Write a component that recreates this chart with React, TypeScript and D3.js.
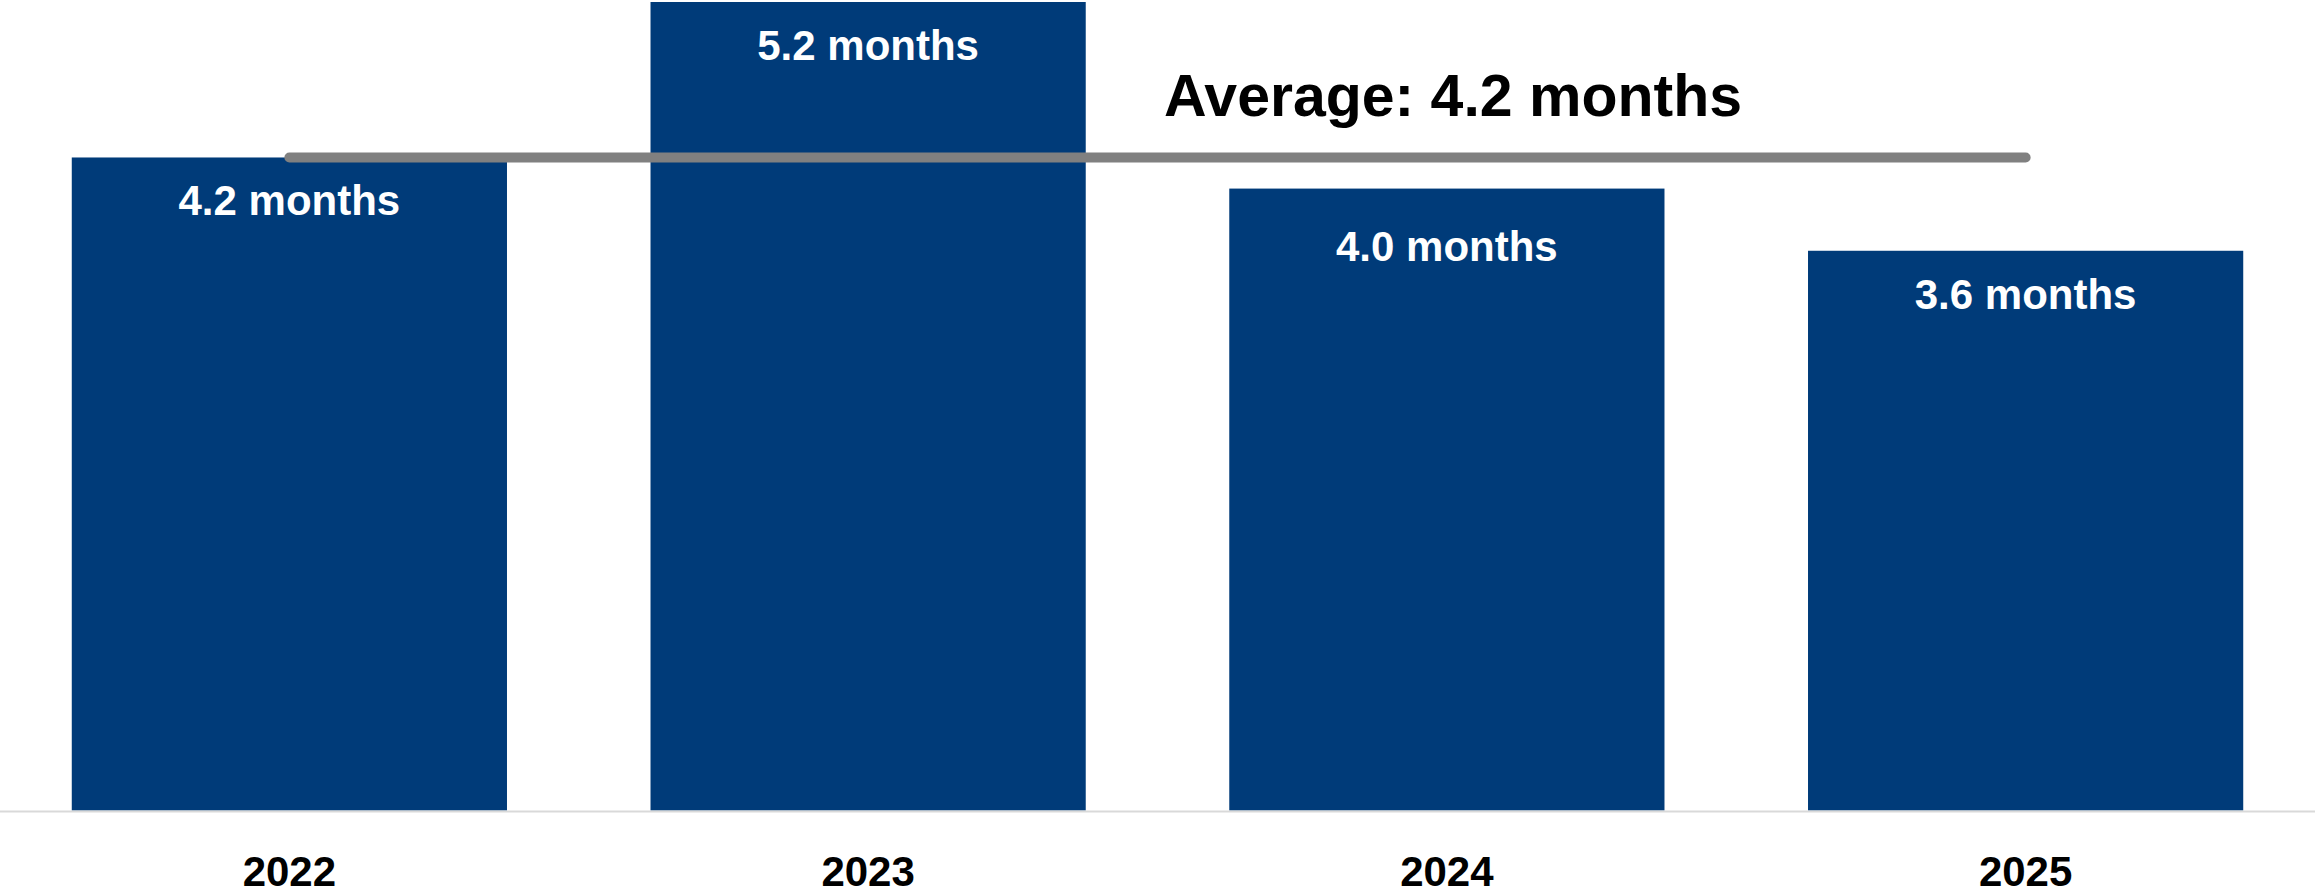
import React from "react";
import * as d3 from "d3";

const categories = ["2022", "2023", "2024", "2025"];
const values = [4.2, 5.2, 4.0, 3.6];
const valueLabels = ["4.2 months", "5.2 months", "4.0 months", "3.6 months"];
const averageValue = 4.2;
const averageLabel = "Average: 4.2 months";

const W = 2315;
const H = 894;
const baseY = 810.5;
const topY = 2;
const FONT = "'Liberation Sans', Arial, sans-serif";
// baseline offsets of value labels below each bar top (layout only)
const labelOffsets = [58, 58, 72, 58];

export default function App() {
  const x = d3
    .scaleBand<string>()
    .domain(categories)
    .range([0, W])
    .paddingInner(0.248)
    .paddingOuter(0.124);
  const y = d3.scaleLinear().domain([0, 5.2]).range([baseY, topY]);
  const bw = x.bandwidth();
  const first = (x(categories[0]) ?? 0) + bw / 2;
  const last = (x(categories[categories.length - 1]) ?? 0) + bw / 2;
  const avgY = y(averageValue);

  return (
    <svg
      width={W}
      height={H}
      style={{ position: "absolute", left: 0, top: 0, background: "#fff" }}
    >
      {categories.map((c, i) => (
        <g key={c}>
          <rect
            x={x(c)}
            y={y(values[i])}
            width={bw}
            height={baseY - y(values[i])}
            fill="#003B79"
          />
          <text
            x={(x(c) ?? 0) + bw / 2}
            y={y(values[i]) + labelOffsets[i]}
            textAnchor="middle"
            fill="#fff"
            fontFamily={FONT}
            fontWeight="bold"
            fontSize={42}
          >
            {valueLabels[i]}
          </text>
          <text
            x={(x(c) ?? 0) + bw / 2}
            y={886}
            textAnchor="middle"
            fill="#000"
            fontFamily={FONT}
            fontWeight="bold"
            fontSize={42}
          >
            {c}
          </text>
        </g>
      ))}
      <line x1={0} x2={W} y1={811.5} y2={811.5} stroke="#D9D9D9" strokeWidth={2} />
      <line
        x1={first}
        x2={last}
        y1={avgY}
        y2={avgY}
        stroke="#808080"
        strokeWidth={10}
        strokeLinecap="round"
      />
      <text
        x={1453}
        y={116}
        textAnchor="middle"
        fill="#000"
        fontFamily={FONT}
        fontWeight="bold"
        fontSize={59}
      >
        {averageLabel}
      </text>
    </svg>
  );
}
